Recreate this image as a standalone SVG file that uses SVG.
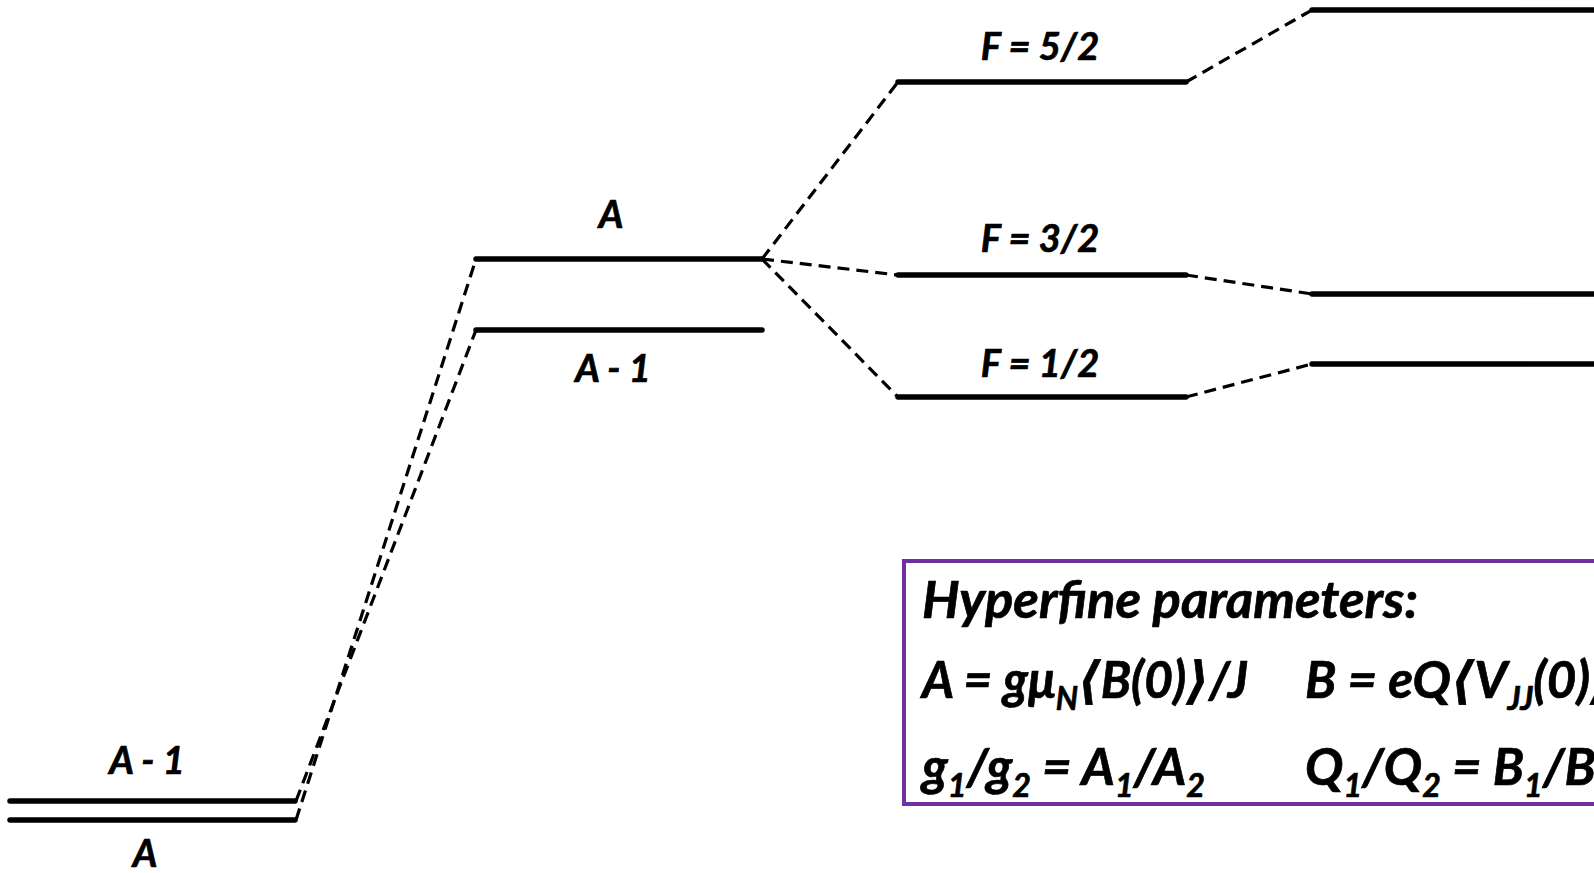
<svg xmlns="http://www.w3.org/2000/svg" width="1594" height="873" viewBox="0 0 1594 873">
<style>
.lvl{stroke:#000;stroke-width:5.5;stroke-linecap:round;fill:none}
.dash{stroke:#000;stroke-width:3.2;stroke-dasharray:12 7;fill:none}
.lbl{font-family:Lato,"Open Sans","Liberation Sans",sans-serif;font-weight:bold;font-style:italic;font-size:38px;fill:#000;stroke:#000;stroke-width:0.7;text-anchor:middle}
.box{font-family:Lato,"Open Sans","Liberation Sans","DejaVu Sans",sans-serif;font-weight:bold;font-style:italic;font-size:51px;fill:#000;stroke:#000;stroke-width:0.7}
.sub{font-size:32px}
</style>
<rect width="1594" height="873" fill="#fff"/>
<g id="connectors">
<line class="dash" x1="296" y1="801" x2="476" y2="330"/>
<line class="dash" x1="296" y1="820" x2="476" y2="259"/>
<line class="dash" x1="762" y1="259" x2="898" y2="82"/>
<line class="dash" x1="762" y1="259" x2="898" y2="275"/>
<line class="dash" x1="762" y1="259" x2="898" y2="397"/>
<line class="dash" x1="1186" y1="82" x2="1312" y2="10"/>
<line class="dash" x1="1186" y1="275" x2="1312" y2="294"/>
<line class="dash" x1="1186" y1="397" x2="1312" y2="364"/>
</g>
<g id="left-Am1"><line class="lvl" x1="10" y1="801" x2="295" y2="801"/><text class="lbl" x="147" y="774">A - 1</text></g>
<g id="left-A"><line class="lvl" x1="10" y1="820" x2="295" y2="820"/><text class="lbl" x="145" y="867">A</text></g>
<g id="mid-A"><line class="lvl" x1="476" y1="259" x2="762" y2="259"/><text class="lbl" x="611" y="228">A</text></g>
<g id="mid-Am1"><line class="lvl" x1="476" y1="330" x2="762" y2="330"/><text class="lbl" x="613" y="382">A - 1</text></g>
<g id="F52"><line class="lvl" x1="898" y1="82" x2="1186" y2="82"/><text class="lbl" x="1040" y="60">F = 5/2</text></g>
<g id="F32"><line class="lvl" x1="898" y1="275" x2="1186" y2="275"/><text class="lbl" x="1040" y="252">F = 3/2</text></g>
<g id="F12"><line class="lvl" x1="898" y1="397" x2="1186" y2="397"/><text class="lbl" x="1040" y="377">F = 1/2</text></g>
<g id="R1"><line class="lvl" x1="1312" y1="10" x2="1600" y2="10"/></g>
<g id="R2"><line class="lvl" x1="1312" y1="294" x2="1600" y2="294"/></g>
<g id="R3"><line class="lvl" x1="1312" y1="364" x2="1600" y2="364"/></g>
<g id="params">
<rect x="904" y="561" width="800" height="243" fill="none" stroke="#7030A0" stroke-width="4"/>
<text class="box" x="922" y="618" textLength="496" lengthAdjust="spacingAndGlyphs">Hyperfine parameters:</text>
<text class="box" x="922" y="698" textLength="326" lengthAdjust="spacingAndGlyphs">A = gμ<tspan class="sub" dy="12">N</tspan><tspan dy="-12">⟨B(0)⟩/J</tspan></text>
<text class="box" x="1305" y="698">B = eQ⟨V<tspan class="sub" dy="12">JJ</tspan><tspan dy="-12">(0)⟩</tspan></text>
<text class="box" x="922" y="785" textLength="283" lengthAdjust="spacingAndGlyphs">g<tspan class="sub" dy="12">1</tspan><tspan dy="-12">/g</tspan><tspan class="sub" dy="12">2</tspan><tspan dy="-12"> = A</tspan><tspan class="sub" dy="12">1</tspan><tspan dy="-12">/A</tspan><tspan class="sub" dy="12">2</tspan></text>
<text class="box" x="1305" y="785">Q<tspan class="sub" dy="12">1</tspan><tspan dy="-12">/Q</tspan><tspan class="sub" dy="12">2</tspan><tspan dy="-12"> = B</tspan><tspan class="sub" dy="12">1</tspan><tspan dy="-12">/B</tspan><tspan class="sub" dy="12">2</tspan></text>
</g>
</svg>
